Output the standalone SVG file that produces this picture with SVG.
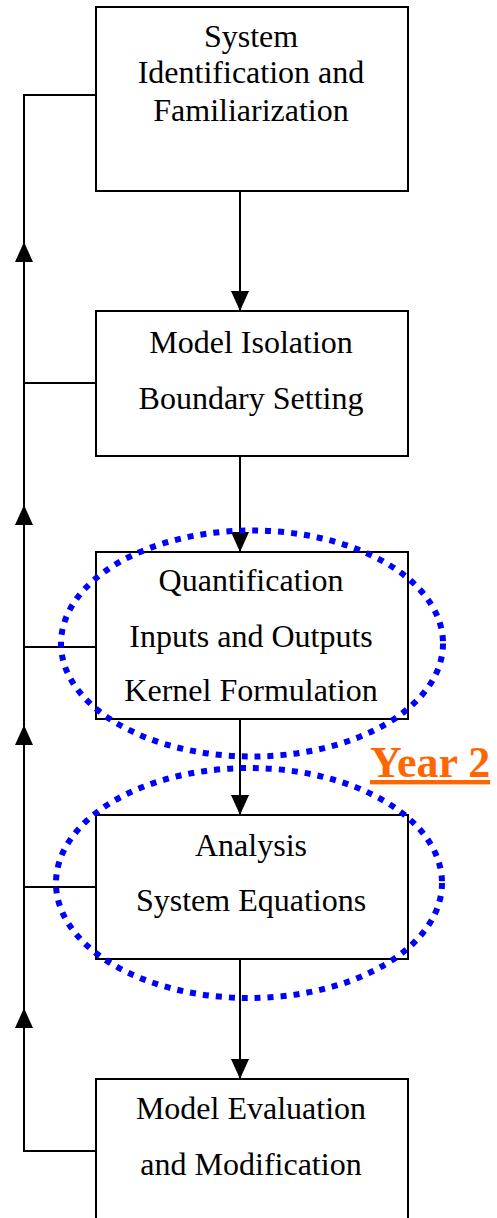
<svg xmlns="http://www.w3.org/2000/svg" width="497" height="1218" viewBox="0 0 497 1218">
<style>
.box{fill:#fff;stroke:#000;stroke-width:2}
.t{font-family:"Liberation Serif","Times New Roman",serif;font-size:32px;fill:#000;text-anchor:middle}
.ln{stroke:#000;stroke-width:2;fill:none}
.ell{fill:none;stroke:#0000FF;stroke-width:6;stroke-dasharray:6 7}
</style>
<defs>
<marker id="ah" markerWidth="20" markerHeight="18" refX="20" refY="9" orient="auto" markerUnits="userSpaceOnUse">
<path d="M0,0 L20,9 L0,18 Z" fill="#000"/>
</marker>
</defs>
<g id="connectors">
<line class="ln" x1="240" y1="191" x2="240" y2="311" marker-end="url(#ah)"/>
<line class="ln" x1="240" y1="456" x2="240" y2="552" marker-end="url(#ah)"/>
<line class="ln" x1="240" y1="719" x2="240" y2="815" marker-end="url(#ah)"/>
<line class="ln" x1="240" y1="959" x2="240" y2="1079" marker-end="url(#ah)"/>
<polyline class="ln" points="96,95 24,95 24,1151 96,1151"/>
<line class="ln" x1="24" y1="383" x2="96" y2="383"/>
<line class="ln" x1="24" y1="647" x2="96" y2="647"/>
<line class="ln" x1="24" y1="887" x2="96" y2="887"/>
<line class="ln" x1="24" y1="270" x2="24" y2="242" marker-end="url(#ah)"/>
<line class="ln" x1="24" y1="535" x2="24" y2="505" marker-end="url(#ah)"/>
<line class="ln" x1="24" y1="755" x2="24" y2="725" marker-end="url(#ah)"/>
<line class="ln" x1="24" y1="1038" x2="24" y2="1008" marker-end="url(#ah)"/>
</g>
<g id="n1">
<rect class="box" x="96" y="7" width="312" height="184"/>
<text class="t" x="251" y="47">System</text>
<text class="t" x="251" y="83">Identification and</text>
<text class="t" x="251" y="121">Familiarization</text>
</g>
<g id="n2">
<rect class="box" x="96" y="311" width="312" height="145"/>
<text class="t" x="251" y="353">Model Isolation</text>
<text class="t" x="251" y="409">Boundary Setting</text>
</g>
<g id="n3">
<rect class="box" x="96" y="552" width="312" height="167"/>
<text class="t" x="251" y="591">Quantification</text>
<text class="t" x="251" y="647">Inputs and Outputs</text>
<text class="t" x="251" y="701">Kernel Formulation</text>
</g>
<g id="n4">
<rect class="box" x="96" y="815" width="312" height="144"/>
<text class="t" x="251" y="856">Analysis</text>
<text class="t" x="251" y="911">System Equations</text>
</g>
<g id="n5">
<rect class="box" x="96" y="1079" width="312" height="160"/>
<text class="t" x="251" y="1119">Model Evaluation</text>
<text class="t" x="251" y="1175">and Modification</text>
</g>
<g id="highlights">
<ellipse class="ell" cx="252" cy="643.5" rx="191" ry="113"/>
<ellipse class="ell" cx="249" cy="883" rx="193" ry="115"/>
<text x="370" y="777" style="font-family:'Liberation Serif','Times New Roman',serif;font-size:44px;font-weight:bold;fill:#FF6600;text-decoration:underline">Year 2</text>
</g>
</svg>
